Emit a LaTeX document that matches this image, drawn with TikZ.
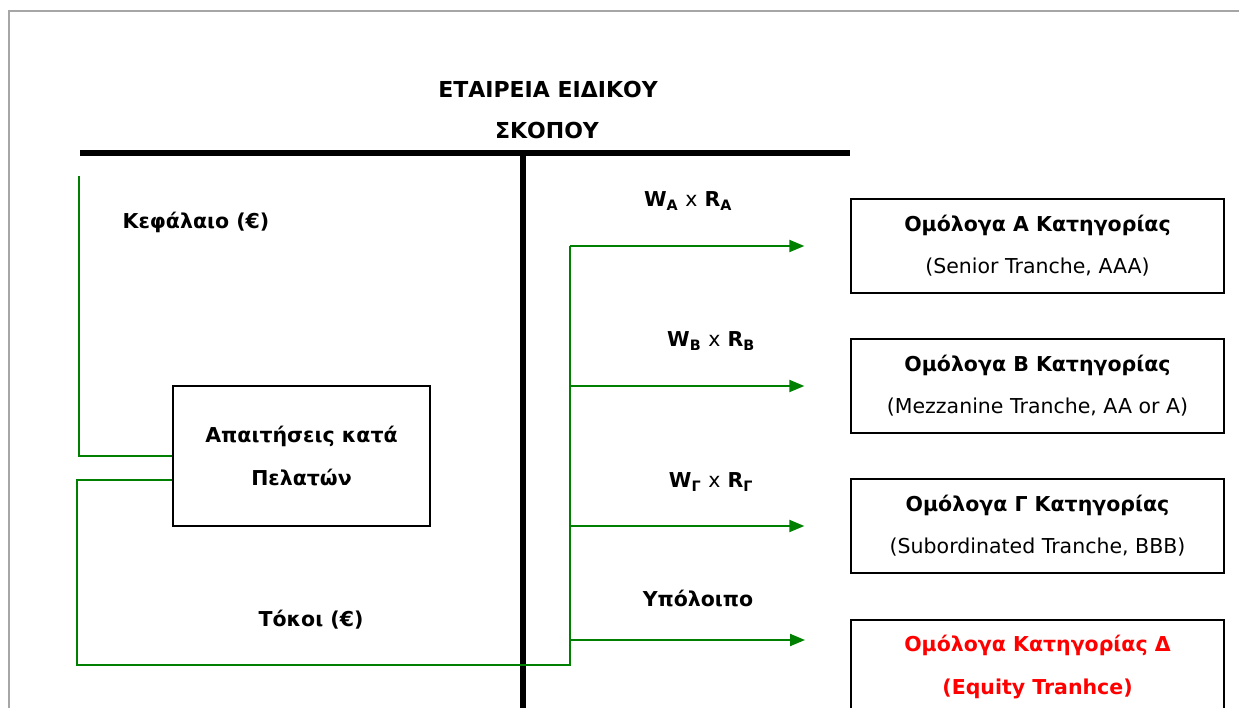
\documentclass[tikz,border=0pt]{standalone}
\usepackage{fontspec}
\setmainfont{DejaVu Sans}
\usetikzlibrary{arrows.meta,positioning}
\definecolor{flowgreen}{HTML}{008000}
\definecolor{framegray}{HTML}{A6A6A6}
\definecolor{equityred}{HTML}{FF0000}

\begin{document}
\begin{tikzpicture}[x=1pt, y=-1pt,
    box/.style={draw=black, line width=1.3pt, align=center, inner sep=0pt,
                minimum width=373pt, minimum height=94pt,
                font=\fontsize{20.5}{42}\selectfont},
    lbl/.style={inner sep=0pt, font=\bfseries\fontsize{20.5}{24}\selectfont},
    flow/.style={flowgreen, line width=2pt},
    arrow/.style={flow, -{Triangle[length=15pt,width=12pt]}},
    bar/.style={black, line width=6pt}
]
\useasboundingbox (0,0) rectangle (1239,708);
\draw[framegray, line width=2pt] (9,11) rectangle (1300,800);

% title and the two heavy bars
\node[lbl, font=\bfseries\fontsize{22}{24}\selectfont] (title1) at (548,89) {ΕΤΑΙΡΕΙΑ ΕΙΔΙΚΟΥ};
\node[lbl, font=\bfseries\fontsize{22}{24}\selectfont] (title2) at (547,130) {ΣΚΟΠΟΥ};
\draw[bar] (80,153) -- (850,153);
\draw[bar] (523,153) -- (523,720);

% claims box
\node[box, minimum width=257pt, minimum height=140pt,
      font=\bfseries\fontsize{20.5}{43}\selectfont] (claims) at (301.5,456)
      {Απαιτήσεις κατά\\Πελατών};

% tranches
\node[box] (boxA) at (1037.5,246) {\textbf{Ομόλογα Α Κατηγορίας}\\(Senior Tranche, AAA)};
\node[box] (boxB) at (1037.5,386) {\textbf{Ομόλογα Β Κατηγορίας}\\(Mezzanine Tranche, AA or A)};
\node[box] (boxC) at (1037.5,526) {\textbf{Ομόλογα Γ Κατηγορίας}\\(Subordinated Tranche, BBB)};
\node[box, text=equityred, font=\bfseries\fontsize{20.5}{43}\selectfont] (boxD) at (1037.5,667)
      {Ομόλογα Κατηγορίας Δ\\(Equity Tranhce)};

% flow labels
\node[lbl] (capital) at (196,222) {Κεφάλαιο (€)};
\node[lbl] (interest) at (311,620) {Τόκοι (€)};
\node[lbl] (rateA) at (688,201) {W\textsubscript{A} {\mdseries x} R\textsubscript{A}};
\node[lbl] (rateB) at (711,341) {W\textsubscript{B} {\mdseries x} R\textsubscript{B}};
\node[lbl] (rateC) at (711,482) {W\textsubscript{Γ} {\mdseries x} R\textsubscript{Γ}};
\node[lbl] (rest) at (698,598) {Υπόλοιπο};

% green flows
\coordinate (capTop) at (79,176);
\coordinate (busA) at (570,246);
\coordinate (busB) at (570,386);
\coordinate (busC) at (570,526);
\coordinate (busD) at (570,640);
\coordinate[left=46pt of boxA.west] (endA);
\coordinate[left=46pt of boxB.west] (endB);
\coordinate[left=46pt of boxC.west] (endC);
\coordinate (endD) at (805,640);

\draw[flow] (capTop) |- (claims.west);
\draw[flow] ([yshift=-24pt]claims.west) -| (77,665) -| (busA);
\draw[arrow] (busA) -- (endA);
\draw[arrow] (busB) -- (endB);
\draw[arrow] (busC) -- (endC);
\draw[arrow] (busD) -- (endD);
\end{tikzpicture}
\end{document}
